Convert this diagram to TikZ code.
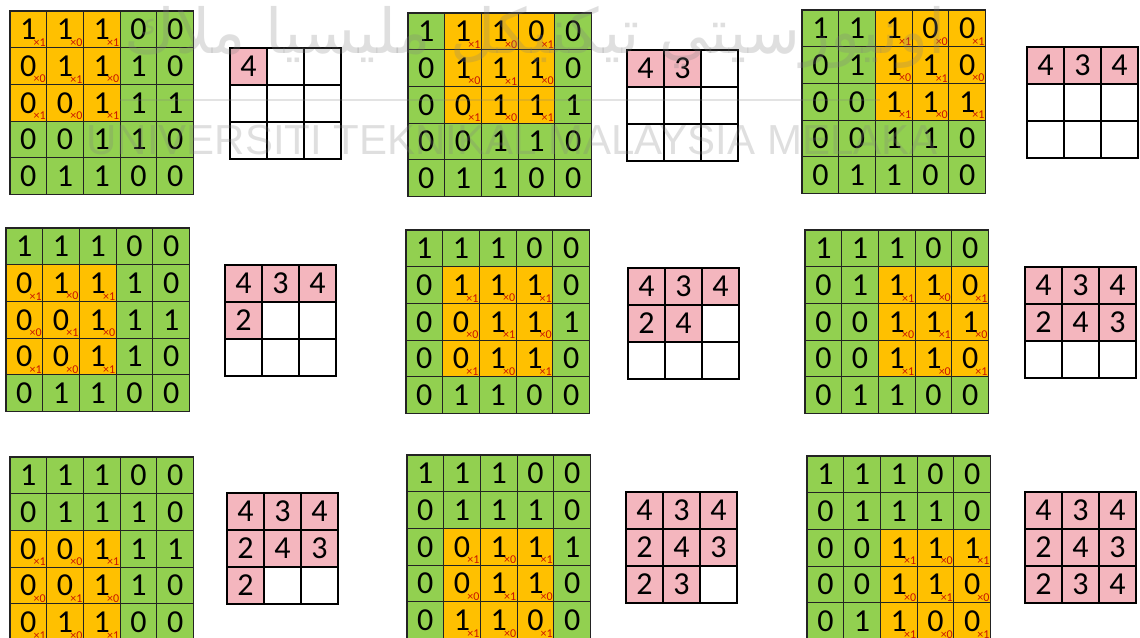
\documentclass[tikz,border=0pt]{standalone}
\usepackage{fontspec}
\setmainfont{Carlito}
\newfontfamily\wmfont{Liberation Sans}
\newfontfamily\jawifont[Script=Arabic]{DejaVu Sans}
\TeXXeTstate=1
\usepackage{xcolor}

\definecolor{ingreen}{RGB}{146,208,80}
\definecolor{winorange}{RGB}{255,192,0}
\definecolor{outpink}{RGB}{244,182,190}
\definecolor{wgtred}{RGB}{200,20,0}
\definecolor{gridline}{RGB}{35,35,35}

\tikzset{
  incell/.style={draw=gridline, line width=0.6pt, minimum size=18.35pt,
    inner sep=0pt, font=\fontsize{16}{17}\selectfont},
  outcell/.style={draw=black, line width=0.65pt, minimum size=18.5pt,
    inner sep=0pt, font=\fontsize{16}{17}\selectfont},
  wgt/.style={text=wgtred, font=\fontsize{6}{6}\selectfont,
    inner sep=0.4pt, anchor=south east, xshift=-0.2pt, yshift=0.4pt},
  watermark/.style={text=gray, text opacity=0.25}
}

%% input image and filter result
\def\inrows{{1,1,1,0,0},{0,1,1,1,0},{0,0,1,1,1},{0,0,1,1,0},{0,1,1,0,0}}
\def\outvals{4,3,4,2,4,3,2,3,4}

%% #1 name, #2/#3 input top-left, #4/#5 window offset,
%% #6/#7 output top-left, #8 number of outputs done
\newcommand{\convstep}[8]{%
  \foreach \rowv [count=\r] in \inrows {
    \foreach \v [count=\c] in \rowv {
      \pgfmathtruncatemacro{\ki}{\r-#4}
      \pgfmathtruncatemacro{\kj}{\c-#5}
      \pgfmathtruncatemacro{\inwin}{(\ki>0)*(\ki<4)*(\kj>0)*(\kj<4)}
      \ifnum\inwin=1
        \pgfmathtruncatemacro{\kw}{1-mod(\ki+\kj,2)}
        \node[incell,fill=winorange] (#1-\r-\c)
          at ({#2+(\c-0.5)*36.7},{#3+(\r-0.5)*36.7}) {\v};
        \node[wgt] (#1-w\r-\c) at (#1-\r-\c.south east) {×\kw};
      \else
        \node[incell,fill=ingreen] (#1-\r-\c)
          at ({#2+(\c-0.5)*36.7},{#3+(\r-0.5)*36.7}) {\v};
      \fi
    }
  }
  \foreach \o [count=\k] in \outvals {
    \pgfmathtruncatemacro{\orow}{div(\k-1,3)}
    \pgfmathtruncatemacro{\ocol}{mod(\k-1,3)}
    \ifnum\k>#8
      \node[outcell] (#1-o\k) at ({#6+(\ocol+0.5)*37},{#7+(\orow+0.5)*37}) {};
    \else
      \node[outcell,fill=outpink] (#1-o\k)
        at ({#6+(\ocol+0.5)*37},{#7+(\orow+0.5)*37}) {\o};
    \fi
  }
}

\begin{document}
\begin{tikzpicture}[x=0.5pt, y=-0.5pt]
  \useasboundingbox (0,0) rectangle (1140,637);

  %% stride 1, one step per panel
  \convstep{p1}{10}{11}{0}{0}{230}{48}{1}
  \convstep{p2}{408}{13}{0}{1}{627}{50}{2}
  \convstep{p3}{802}{10}{0}{2}{1027}{47}{3}
  \convstep{p4}{6}{228}{1}{0}{225}{265}{4}
  \convstep{p5}{406}{230}{1}{1}{628}{268}{5}
  \convstep{p6}{805}{230}{1}{2}{1025}{267}{6}
  \convstep{p7}{10}{457}{2}{0}{227}{493}{7}
  \convstep{p8}{407}{455}{2}{1}{626}{492}{8}
  \convstep{p9}{807}{456}{2}{2}{1025}{492}{9}

  %% watermark
  \coordinate (wl) at (120,100);
  \coordinate (wr) at (880,100);
  \draw[gray, opacity=0.22, line width=1pt] (wl) -- (wr);
  \node[watermark, font=\jawifont\fontsize{31}{31}\selectfont] (wmj) at (535,38)
    {\beginR اونيورسيتي تيكنيكل مليسيا ملاك\endR};
  \node[watermark, font=\wmfont\fontsize{21}{21}\selectfont] (wm) at (512,140)
    {UNIVERSITI TEKNIKAL MALAYSIA MELAKA};
\end{tikzpicture}
\end{document}
